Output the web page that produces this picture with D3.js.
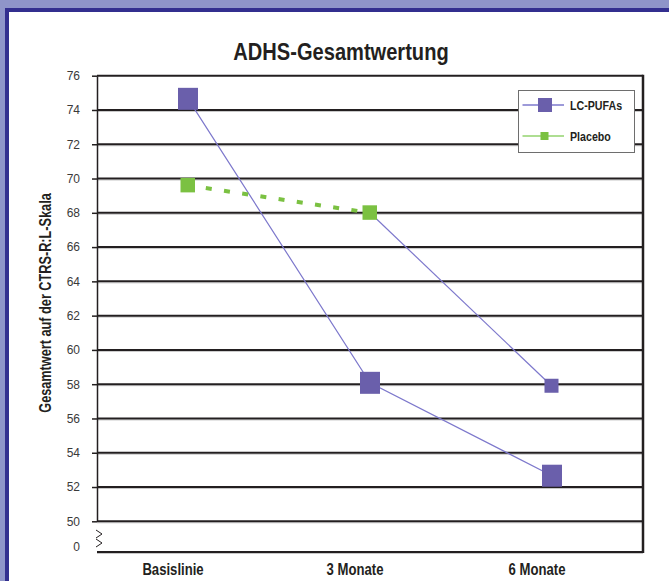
<!DOCTYPE html>
<html>
<head>
<meta charset="utf-8">
<script src="https://cdn.jsdelivr.net/npm/d3@7"></script>
<style>
  html, body { margin: 0; padding: 0; background: #fff; }
  svg { display: block; }
</style>
</head>
<body>
<div id="chart"></div>
<script>
(function(){

// Data
const categories = ["Basislinie", "3 Monate", "6 Monate"];
const pufaValues = [74.65, 58.08, 52.66];
const placeboValues = [69.6, 68.0, 57.88];
const yTicks = [50, 52, 54, 56, 58, 60, 62, 64, 66, 68, 70, 72, 74, 76];
const seriesNames = ["LC-PUFAs", "Placebo"];

const width = 669;
const height = 581;
const plot = { left: 97, right: 643, top: 75.7, bottom: 521.3, base: 552 };

// no narrow font installed: squeeze Liberation Sans bold horizontally
const sans = "'Liberation Sans', Arial, sans-serif";
const squeeze = 0.82;
const ink = "#231f20";
const purple = "#6a5fab";
const purpleLine = "#7d78cc";
const green = "#7bc142";
const greenLine = "#93d36e";

const svg = d3.select("#chart").append("svg")
    .attr("width", width)
    .attr("height", height);

// Frame: lavender outer band, navy border, white interior
svg.append("rect").attr("width", width).attr("height", height).attr("fill", "#8f95c9");
svg.append("rect").attr("x", 5).attr("y", 8).attr("width", width - 5).attr("height", height - 8).attr("fill", "#332f8f");
svg.append("rect").attr("x", 9).attr("y", 12).attr("width", width - 9).attr("height", height - 12).attr("fill", "#fff");

// Scales
const x = d3.scalePoint()
    .domain(categories)
    .range([plot.left, plot.right])
    .padding(0.5);

const y = d3.scaleLinear()
    .domain([50, 76])
    .range([plot.bottom, plot.top]);

function boldText(parent, tx, ty, size, str, anchor, extra) {
    return parent.append("text")
        .attr("transform", `translate(${tx},${ty}) ${extra || ""} scale(${squeeze},1)`)
        .attr("text-anchor", anchor || "middle")
        .style("font-family", sans)
        .style("font-weight", "bold")
        .style("font-size", size + "px")
        .style("fill", ink)
        .text(str);
}

// Title
boldText(svg, 341, 59.5, 24.5, "ADHS-Gesamtwertung");

// Gridlines (dark line with a light shadow below)
const grid = svg.append("g");
grid.selectAll(".shadow")
    .data(yTicks.filter(d => d < 76))
    .enter().append("line")
    .attr("x1", plot.left).attr("x2", plot.right)
    .attr("y1", d => y(d) + 1.5).attr("y2", d => y(d) + 1.5)
    .style("stroke", "#c8c8c8")
    .style("stroke-width", 1);
grid.selectAll(".gl")
    .data(yTicks)
    .enter().append("line")
    .attr("x1", plot.left).attr("x2", plot.right)
    .attr("y1", d => y(d)).attr("y2", d => y(d))
    .style("stroke", ink)
    .style("stroke-width", 2);

// Y axis
const yAxis = svg.append("g")
    .attr("transform", `translate(${plot.left},0)`)
    .call(d3.axisLeft(y).tickValues(yTicks).tickSize(5).tickPadding(12).tickSizeOuter(0));
yAxis.select(".domain").style("stroke", ink).style("stroke-width", 1.5);
yAxis.selectAll(".tick line").style("stroke", ink).style("stroke-width", 1.5);
yAxis.selectAll(".tick text")
    .style("font-family", sans)
    .style("font-size", "12px")
    .style("fill", "#3a3a3a");

// Broken-axis "0" and zigzag
svg.append("text")
    .attr("x", 80)
    .attr("y", 547)
    .attr("dy", "0.32em")
    .attr("text-anchor", "end")
    .style("font-family", sans)
    .style("font-size", "12px")
    .style("fill", "#3a3a3a")
    .text("0");
svg.append("path")
    .attr("d", "M96,530 L102,534 L96,538 M96,539 L102,543 L96,547")
    .style("fill", "none")
    .style("stroke", ink)
    .style("stroke-width", 1);

// Bottom and right frame lines
svg.append("line")
    .attr("x1", plot.left).attr("x2", plot.right + 1)
    .attr("y1", plot.base).attr("y2", plot.base)
    .style("stroke", ink).style("stroke-width", 2);
svg.append("line")
    .attr("x1", plot.left).attr("x2", plot.right)
    .attr("y1", plot.base + 1.5).attr("y2", plot.base + 1.5)
    .style("stroke", "#c8c8c8").style("stroke-width", 1);
svg.append("line")
    .attr("x1", plot.right).attr("x2", plot.right)
    .attr("y1", plot.top - 1).attr("y2", plot.base + 1)
    .style("stroke", ink).style("stroke-width", 2.5);

// X labels
const xLabels = svg.append("g");
categories.forEach(c => boldText(xLabels, x(c) - 15, 575, 16, c));

// Y title
svg.append("text")
    .attr("transform", "translate(50.5,303) rotate(-90) scale(0.77,1)")
    .attr("text-anchor", "middle")
    .style("font-family", sans)
    .style("font-weight", "bold")
    .style("font-size", "16.5px")
    .style("fill", ink)
    .text("Gesamtwert auf der CTRS-R:L-Skala");

// Series lines
const pts = (vals) => vals.map((v, i) => [x(categories[i]), y(v)]);
const pufaPts = pts(pufaValues);
const placeboPts = pts(placeboValues);

svg.append("path")
    .attr("d", d3.line()(pufaPts))
    .style("fill", "none")
    .style("stroke", purpleLine)
    .style("stroke-width", 1.2);

// placebo: first segment dashed green, second segment thin purple (as in original)
svg.append("path")
    .attr("d", d3.line()(placeboPts.slice(0, 2)))
    .style("fill", "none")
    .style("stroke", green)
    .style("stroke-width", 4)
    .style("stroke-dasharray", "6,12.4")
    .style("stroke-dashoffset", -18);
svg.append("path")
    .attr("d", d3.line()(placeboPts.slice(1)))
    .style("fill", "none")
    .style("stroke", purpleLine)
    .style("stroke-width", 1.2);

// Markers
svg.append("g").selectAll("rect")
    .data(pufaPts)
    .enter().append("rect")
    .attr("x", d => d[0] - 10).attr("y", d => d[1] - 11)
    .attr("width", 20).attr("height", 22)
    .style("fill", purple);

svg.append("g").selectAll("rect")
    .data(placeboPts)
    .enter().append("rect")
    .attr("x", (d, i) => d[0] - 7.5).attr("y", d => d[1] - 7.5)
    .attr("width", (d, i) => i < 2 ? 14.5 : 14).attr("height", (d, i) => i < 2 ? 14.5 : 14)
    .style("fill", (d, i) => i < 2 ? green : purple);

// Legend
const legend = svg.append("g");
legend.append("rect")
    .attr("x", 518.5).attr("y", 90.5)
    .attr("width", 116).attr("height", 62)
    .style("fill", "#fff")
    .style("stroke", "#6e6e6e")
    .style("stroke-width", 1);

const legendY = [105, 136];
const legendLine = [purpleLine, greenLine];
const legendFill = [purple, green];
const legendSize = [14, 8];
seriesNames.forEach((name, i) => {
    legend.append("line")
        .attr("x1", 522.5).attr("x2", 564)
        .attr("y1", legendY[i]).attr("y2", legendY[i])
        .style("stroke", legendLine[i])
        .style("stroke-width", 1.5);
    legend.append("rect")
        .attr("x", 545 - legendSize[i] / 2 + (i === 0 ? 0 : -0.5))
        .attr("y", legendY[i] - legendSize[i] / 2)
        .attr("width", legendSize[i]).attr("height", legendSize[i])
        .style("fill", legendFill[i]);
    boldText(legend, 570, legendY[i] + 5, 13, name, "start");
});

})();
</script>
</body>
</html>
